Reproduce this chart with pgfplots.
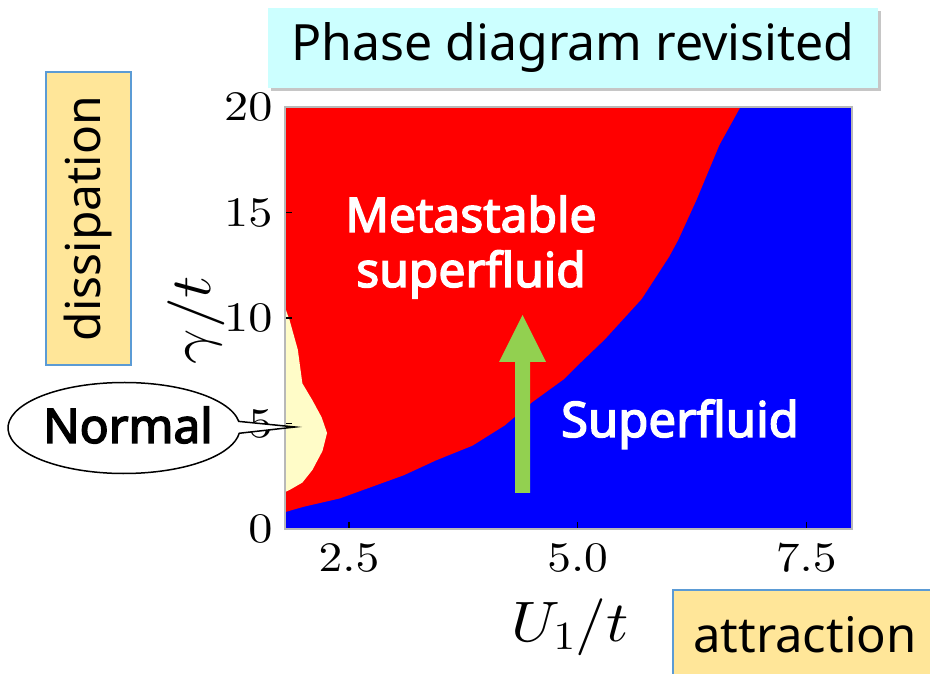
\documentclass[border=0pt]{standalone}
\DeclareFontShape{OT1}{cmr}{m}{n}{<->cmr10}{}
\DeclareFontShape{OML}{cmm}{m}{it}{<->cmmi10}{}
\DeclareFontShape{OMS}{cmsy}{m}{n}{<->cmsy10}{}
\DeclareFontShape{OMX}{cmex}{m}{n}{<->cmex10}{}
\usepackage{graphicx}
\usepackage{pgfplots}
\pgfplotsset{compat=1.18}
\usepackage{fontspec}
\setmainfont{Noto Sans}
\newfontfamily\bsans{Noto Sans}[FakeBold=3]
\usetikzlibrary{shapes.callouts,shadows}
\definecolor{sfblue}{RGB}{0,0,255}
\definecolor{msred}{RGB}{255,0,0}
\definecolor{normcream}{RGB}{255,252,200}
\definecolor{arrowgreen}{RGB}{146,208,80}
\definecolor{titlecyan}{RGB}{204,255,255}
\definecolor{boxgold}{RGB}{255,230,153}
\definecolor{boxblue}{RGB}{91,155,213}
\begin{document}
\begin{tikzpicture}[x=1pt,y=1pt]
\useasboundingbox (0,0) rectangle (930,673);
\begin{axis}[
  at={(285pt,144pt)}, anchor=south west,
  scale only axis, width=567pt, height=422pt,
  xmin=1.8, xmax=8, ymin=0, ymax=20,
  axis on top,
  xtick={2.5,5,7.5}, ytick={0,5,10,15,20},
  xticklabel={\scalebox{1.13}[1]{$\pgfmathprintnumber[fixed,fixed zerofill,precision=1]{\tick}$}},
  yticklabel={\scalebox{1.15}[1]{$\pgfmathprintnumber{\tick}$}},
  tick pos=left, tick align=inside, major tick length=7pt,
  axis line style={draw=black!28, line width=2pt},
  tick style={black, line width=1.5pt},
  ticklabel style={font=\fontsize{42}{50}\selectfont},
  xticklabel style={yshift=-12pt},
  yticklabel style={xshift=-9pt},
  xlabel={\scalebox{1.08}[1]{$U_1/t$}}, ylabel={\scalebox{1.08}[1]{$\gamma/t$}},
  label style={font=\fontsize{57}{66}\selectfont},
  xlabel style={at={(axis description cs:0.503,-0.232)}, anchor=center},
  ylabel style={at={(axis description cs:-0.157,0.495)}, anchor=center},
]
% superfluid (blue) background
\addplot[fill=sfblue, draw=none] coordinates {(1.8,0) (8,0) (8,20) (1.8,20)} -- cycle;
% metastable superfluid (red)
\addplot[fill=msred, draw=none] coordinates {
 (1.8,0.8) (2.0,1.05) (2.4,1.45) (2.75,2.0) (3.1,2.55) (3.45,3.25) (3.85,3.95)
 (4.2,4.9) (4.5,6.0) (4.85,7.1) (5.0,7.75) (5.3,9.0) (5.7,10.9) (6.0,12.9)
 (6.1,13.7) (6.3,15.6) (6.55,18.2) (6.78,20) (1.8,20)} -- cycle;
% normal (cream)
\addplot[fill=normcream, draw=none] coordinates {
 (1.8,10.5) (1.85,9.9) (1.94,8.5) (1.99,6.9) (2.1,6.1) (2.2,5.3) (2.26,4.55)
 (2.21,3.7) (2.1,2.8) (1.99,2.2) (1.85,1.85) (1.8,1.75)} -- cycle;
\end{axis}
% green arrow
\fill[arrowgreen] (515,180) -- (530,180) -- (530,311) -- (546,311) -- (522.5,358) -- (499,311) -- (515,311) -- cycle;
% region labels
\node[anchor=base, text=white, font=\fontsize{48}{56}\selectfont\bsans] at (471,441) {Metastable};
\node[anchor=base, text=white, font=\fontsize{48}{56}\selectfont\bsans] at (471,386) {superfluid};
\node[anchor=base, text=white, font=\fontsize{49}{56}\selectfont\bsans] at (680,236) {Superfluid};
% Normal callout
\node[ellipse callout, draw=black, line width=1.5pt, fill=white, minimum width=232pt, minimum height=91pt,
  callout absolute pointer={(295,246)}, inner sep=0pt] at (124,245) {};
\node[anchor=base, font=\fontsize{48}{56}\selectfont\bsans] at (128,230) {Normal};
% title box
\node[draw=none, fill=titlecyan, drop shadow={shadow xshift=3pt, shadow yshift=-3pt, opacity=0.45},
  minimum width=610pt, minimum height=80pt, inner sep=0pt, font=\fontsize{50}{60}\selectfont] at (573,625) {Phase diagram revisited};
% dissipation box
\filldraw[fill=boxgold, draw=boxblue, line width=1.5pt] (46,308) rectangle (131,601);
\node[rotate=90, font=\fontsize{48}{58}\selectfont] at (88.5,454.5) {dissipation};
% attraction box
\filldraw[fill=boxgold, draw=boxblue, line width=1.5pt] (673,-10) rectangle (945,83);
\node[anchor=base west, inner sep=0pt, font=\fontsize{49}{58}\selectfont] at (693,21) {attraction};
\end{tikzpicture}
\end{document}
